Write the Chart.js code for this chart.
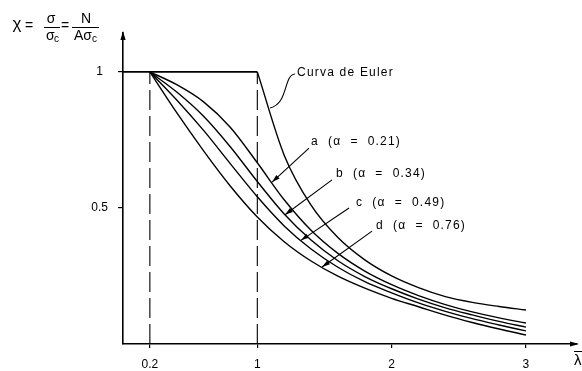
<!DOCTYPE html>
<html>
<head>
<meta charset="utf-8">
<script src="https://cdn.jsdelivr.net/npm/chart.js@4.4.0/dist/chart.umd.min.js"></script>
<style>
  body { margin: 0; background: #fff; }
  #wrap { width: 582px; height: 371px; position: relative; }
</style>
</head>
<body>
<div id="wrap"><canvas id="buckling"></canvas></div>
<script>
// relative slenderness where the curves are sampled
const lambdaPts = [0.2, 0.4, 0.6, 0.8, 1.0, 1.2, 1.4, 1.6, 1.8, 2.0, 2.2, 2.4, 2.6, 2.8, 3.0];
// reduction factor chi for each imperfection curve
const curveA = [1.00, 0.953, 0.890, 0.796, 0.666, 0.530, 0.418, 0.333, 0.268, 0.218, 0.178, 0.145, 0.118, 0.096, 0.077];
const curveB = [1.00, 0.926, 0.837, 0.724, 0.597, 0.478, 0.382, 0.306, 0.248, 0.203, 0.165, 0.133, 0.107, 0.083, 0.062];
const curveC = [1.00, 0.897, 0.785, 0.662, 0.541, 0.434, 0.349, 0.282, 0.229, 0.188, 0.151, 0.120, 0.093, 0.070, 0.048];
const curveD = [1.00, 0.850, 0.710, 0.580, 0.467, 0.376, 0.305, 0.249, 0.205, 0.168, 0.137, 0.106, 0.079, 0.055, 0.033];
// Euler hyperbola past lambda = 1
const eulerLambda = [1.0, 1.2, 1.4, 1.6, 1.8, 2.0, 2.2, 2.4, 2.6, 2.8, 3.0];
const eulerChi = [1.00, 0.694, 0.510, 0.391, 0.309, 0.250, 0.207, 0.174, 0.153, 0.138, 0.125];
// plateau chi = 1 and the two reference slenderness lines
const plateau = [[0, 1], [1, 1]];
const refLambdas = [0.2, 1];

const xTicks = [0.2, 1, 2, 3];
const yTicks = [0.5, 1];

const curveNames = ['a', 'b', 'c', 'd'];
const alphas = ['0.21', '0.34', '0.49', '0.76'];

const FONT = '"Liberation Sans", Arial, sans-serif';

const toXY = (xs, ys) => xs.map((v, i) => ({ x: v, y: ys[i] }));

const line = (data, extra) => Object.assign({
  data: data,
  borderColor: '#000',
  borderWidth: 1.4,
  pointRadius: 0,
  fill: false,
  cubicInterpolationMode: 'monotone'
}, extra || {});

const datasets = [
  line(plateau.map(p => ({ x: p[0], y: p[1] })), { cubicInterpolationMode: 'default', tension: 0, borderWidth: 1.6 }),
  line(toXY(eulerLambda, eulerChi)),
  line(toXY(lambdaPts, curveA)),
  line(toXY(lambdaPts, curveB)),
  line(toXY(lambdaPts, curveC)),
  line(toXY(lambdaPts, curveD))
];
refLambdas.forEach(l => {
  datasets.push(line([{ x: l, y: 0 }, { x: l, y: 1 }], {
    borderDash: [20, 6], borderWidth: 1.1, tension: 0, cubicInterpolationMode: 'default'
  }));
});

// where each curve label sits, where its leader starts and where the arrow lands
const callouts = [
  { text: [1.40, 0.743], from: [1.385, 0.72], to: [1.11, 0.595] },
  { text: [1.586, 0.625], from: [1.556, 0.603], to: [1.206, 0.475] },
  { text: [1.735, 0.518], from: [1.683, 0.50], to: [1.325, 0.381] },
  { text: [1.884, 0.434], from: [1.854, 0.415], to: [1.482, 0.283] }
];

function arrowHead(ctx, x0, y0, x1, y1, len, half) {
  const a = Math.atan2(y1 - y0, x1 - x0);
  ctx.beginPath();
  ctx.moveTo(x1, y1);
  ctx.lineTo(x1 - len * Math.cos(a) + half * Math.sin(a), y1 - len * Math.sin(a) - half * Math.cos(a));
  ctx.lineTo(x1 - len * Math.cos(a) - half * Math.sin(a), y1 - len * Math.sin(a) + half * Math.cos(a));
  ctx.closePath();
  ctx.fill();
}

const decorations = {
  id: 'decorations',
  afterDraw(chart) {
    const { ctx, chartArea: area, scales: { x, y } } = chart;
    const px = v => x.getPixelForValue(v);
    const py = v => y.getPixelForValue(v);
    ctx.save();
    ctx.fillStyle = '#000';
    ctx.strokeStyle = '#000';

    // axis arrows
    arrowHead(ctx, area.left, area.top + 10, area.left, area.top - 2, 9, 2.6);
    arrowHead(ctx, area.right - 10, area.bottom, area.right + 2, area.bottom, 9, 2.6);

    // curve labels with leaders
    ctx.font = '12px ' + FONT;
    ctx.letterSpacing = '1.2px';
    ctx.textBaseline = 'middle';
    ctx.textAlign = 'left';
    ctx.lineWidth = 1.1;
    callouts.forEach((c, i) => {
      ctx.fillText(curveNames[i] + '  (α  =  ' + alphas[i] + ')', px(c.text[0]), py(c.text[1]));
      const x0 = px(c.from[0]), y0 = py(c.from[1]);
      const x1 = px(c.to[0]), y1 = py(c.to[1]);
      ctx.beginPath();
      ctx.moveTo(x0, y0);
      ctx.lineTo(x1, y1);
      ctx.stroke();
      arrowHead(ctx, x0, y0, x1, y1, 8, 2.4);
    });

    // Euler label and its hooked leader
    const ex = px(1.296), ey = py(0.996);
    ctx.fillText('Curva de Euler', ex, ey);
    ctx.beginPath();
    ctx.moveTo(ex - 2, ey + 1);
    ctx.bezierCurveTo(ex - 14, ey + 2, ex - 8, ey + 30, ex - 27, ey + 35);
    ctx.stroke();

    // chi formula in the corner
    ctx.letterSpacing = '0px';
    ctx.textAlign = 'center';
    ctx.font = '17px ' + FONT;
    ctx.fillText('χ', 17, 24);
    ctx.font = '14px ' + FONT;
    ctx.fillText('=', 29, 26);
    ctx.fillText('=', 65, 26);
    ctx.lineWidth = 1;
    ctx.beginPath();
    ctx.moveTo(44, 27.5); ctx.lineTo(60, 27.5);
    ctx.moveTo(72, 27.5); ctx.lineTo(99, 27.5);
    ctx.stroke();
    ctx.font = '14px ' + FONT;
    ctx.fillText('σ', 51, 19);
    ctx.fillText('N', 86, 19);
    ctx.textAlign = 'left';
    ctx.fillText('σ', 46, 36);
    ctx.fillText('Aσ', 74, 36);
    ctx.font = '10px ' + FONT;
    ctx.fillText('c', 54, 39);
    ctx.fillText('c', 92, 39);

    // lambda bar at the end of the x axis
    ctx.font = '15px ' + FONT;
    ctx.textAlign = 'left';
    ctx.fillText('λ', 574, 361);
    ctx.beginPath();
    ctx.moveTo(574, 351.5); ctx.lineTo(583, 351.5);
    ctx.stroke();

    ctx.restore();
  }
};

new Chart(document.getElementById('buckling'), {
  type: 'line',
  data: { datasets: datasets },
  plugins: [decorations],
  options: {
    responsive: true,
    maintainAspectRatio: false,
    animation: false,
    parsing: true,
    layout: { padding: { top: 33, right: 5, left: 0, bottom: 0 } },
    plugins: { legend: { display: false }, tooltip: { enabled: false } },
    scales: {
      x: {
        type: 'linear',
        min: 0,
        max: 3.38,
        afterBuildTicks: s => { s.ticks = xTicks.map(v => ({ value: v })); },
        afterFit: s => { s.height = 27; },
        ticks: {
          callback: v => String(v),
          color: '#000',
          font: { family: FONT, size: 12 },
          padding: 9,
          autoSkip: false,
          maxRotation: 0
        },
        grid: { display: true, drawOnChartArea: false, drawTicks: true, tickLength: 4, color: '#000', lineWidth: 1.2 },
        border: { display: true, color: '#000', width: 1.6 }
      },
      y: {
        type: 'linear',
        min: 0,
        max: 1.143,
        afterBuildTicks: s => { s.ticks = yTicks.map(v => ({ value: v })); },
        afterFit: s => { s.width = 123; },
        ticks: {
          callback: v => String(v),
          color: '#000',
          font: { family: FONT, size: 12 },
          padding: 10,
          crossAlign: 'center'
        },
        grid: { display: true, drawOnChartArea: false, drawTicks: true, tickLength: 5, color: '#000', lineWidth: 1.2 },
        border: { display: true, color: '#000', width: 1.6 }
      }
    }
  }
});
</script>
</body>
</html>
